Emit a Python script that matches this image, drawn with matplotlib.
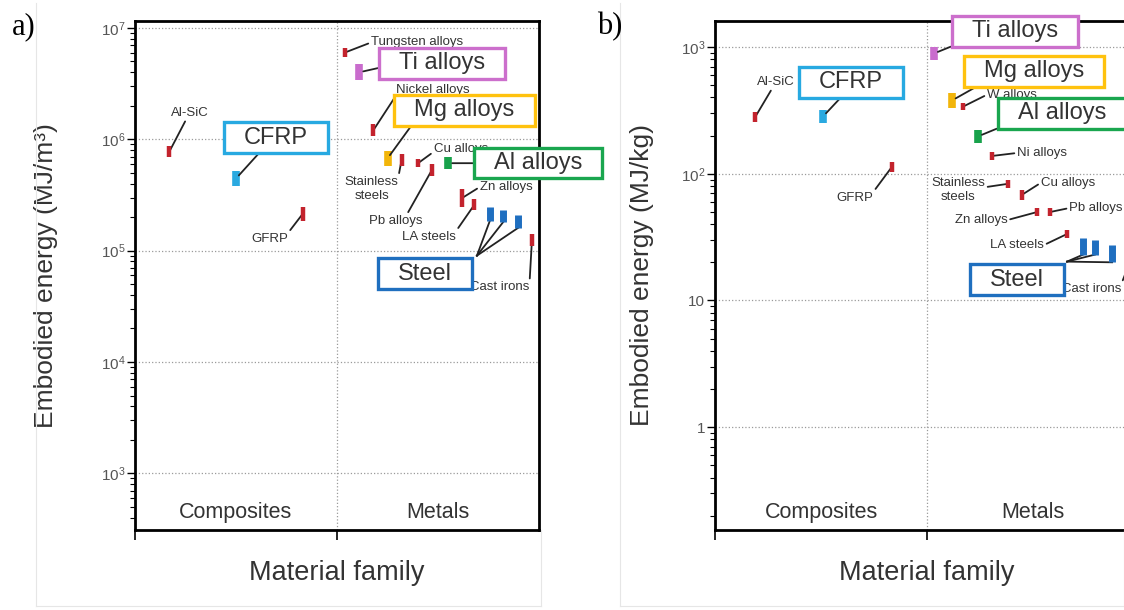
import numpy as np
import matplotlib
matplotlib.use("Agg")
import matplotlib.pyplot as plt
from matplotlib.lines import Line2D
from matplotlib.path import Path
from matplotlib.ticker import LogLocator, FuncFormatter, NullFormatter

plt.rcParams['font.family'] = ['Liberation Sans', 'DejaVu Sans']
plt.rcParams['mathtext.fontset'] = 'custom'
plt.rcParams['mathtext.rm'] = 'Liberation Sans'
plt.rcParams['mathtext.it'] = 'Liberation Sans:italic'
plt.rcParams['mathtext.bf'] = 'Liberation Sans:bold'

families = ["Composites", "Metals"]

# a) embodied energy per unit volume, MJ/m^3 (low / high of each range)
mat_a = ["Al-SiC", "CFRP", "GFRP", "Tungsten alloys", "Ti alloys", "Nickel alloys",
         "Mg alloys", "Stainless\nsteels", "Cu alloys", "Pb alloys", "Al alloys",
         "Zn alloys", "LA steels", "Cast irons"]
x_a = [0.17, 0.50, 0.83, 1.04, 1.11, 1.18, 1.25, 1.32, 1.40, 1.47, 1.55, 1.62, 1.68, 1.965]
lo_a = [6.9e5, 3.8e5, 1.86e5, 5.5e6, 3.4e6, 1.07e6, 5.8e5, 5.8e5, 5.6e5, 4.7e5, 5.4e5,
        2.46e5, 2.3e5, 1.1e5]
hi_a = [8.7e5, 5.2e5, 2.46e5, 6.6e6, 4.7e6, 1.36e6, 7.8e5, 7.4e5, 6.6e5, 6.0e5, 6.9e5,
        3.6e5, 2.9e5, 1.4e5]
steel_x_a = [1.757, 1.822, 1.896]
steel_lo_a = [1.86e5, 1.8e5, 1.6e5]
steel_hi_a = [2.46e5, 2.3e5, 2.1e5]

# b) embodied energy per unit mass, MJ/kg
mat_b = ["Al-SiC", "CFRP", "GFRP", "Ti alloys", "Mg alloys", "W alloys", "Al alloys",
         "Ni alloys", "Stainless\nsteels", "Cu alloys", "Zn alloys", "Pb alloys",
         "LA steels", "Cast irons"]
x_b = [0.19, 0.51, 0.835, 1.033, 1.118, 1.17, 1.241, 1.307, 1.382, 1.448, 1.519, 1.58,
       1.66, 1.948]
lo_b = [257, 252, 104, 790, 330, 317, 175, 128, 77, 62, 46, 46, 31, 16]
hi_b = [307, 319, 124, 1000, 434, 361, 222, 149, 90, 75, 54, 54, 36, 21]
steel_x_b = [1.736, 1.792, 1.873]
steel_lo_b = [23, 23, 20]
steel_hi_b = [31, 30, 27.5]

RED = '#c3232d'
TXT = '#333333'
bar_colors = {"CFRP": '#2aa9e0', "Ti alloys": '#c96ccd', "Mg alloys": '#f2b50a',
              "Al alloys": '#18a24b', "Steel": '#1f6fc0'}
box_colors = {"CFRP": '#27a9e1', "Ti alloys": '#cc6fcc', "Mg alloys": '#ffc20e',
              "Al alloys": '#1aa64f', "Steel": '#1f6fbf'}

# label placement: offset in pixels from the middle of each bar, and where the leader leaves the label
layout_a = {
    "Al-SiC": (21, 39, (0.4, 0)), "CFRP": (40, 41, (0.3, 0)), "GFRP": (-33, -25, (1, 1)),
    "Tungsten alloys": (72, 10, (0, 0.5)), "Ti alloys": (83, 9, (0, 0.5)),
    "Nickel alloys": (59, 40, (0, 0)), "Mg alloys": (77, 48, (0, 0)),
    "Stainless\nsteels": (-30, -29, (1, 1)), "Cu alloys": (43, 14, (0, 0.3)),
    "Pb alloys": (-36, -51, (0.7, 1)), "Al alloys": (90, 0, (0, 0.5)),
    "Zn alloys": (44, 11, (0, 0.5)), "LA steels": (-45, -32, (1, 1)),
    "Cast irons": (-32, -47, (1, 1)),
}
steel_layout_a = {"hub": (-13, -35), "box": (-65, -53)}

layout_b = {
    "Al-SiC": (21, 35, (0.4, 0)), "CFRP": (28, 34, (0.4, 0)), "GFRP": (-37, -31, (1, 1)),
    "Ti alloys": (81, 22, (0, 0.2)), "Mg alloys": (82, 29, (0, 0)),
    "W alloys": (49, 12, (0, 0.5)), "Al alloys": (84, 23, (0, 0.2)),
    "Ni alloys": (50, 3, (0, 0.5)), "Stainless\nsteels": (-50, -6, (1, 0.6)),
    "Cu alloys": (46, 12, (0, 0.5)), "Zn alloys": (-56, -8, (1, 0.5)),
    "Pb alloys": (46, 4, (0, 0.5)), "LA steels": (-50, -11, (1, 0.5)),
    "Cast irons": (-36, -22, (1, 1)),
}
steel_layout_b = {"hub": (-16, -7), "box": (-66, -25)}


def wide_box(x0, y0, width, height, mutation_size):
    # rectangle with more room left/right than above/below
    px, py = 0.85 * mutation_size, 0.18 * mutation_size
    xa, xb = x0 - px, x0 + width + px
    ya, yb = y0 - py, y0 + height + py
    return Path([(xa, ya), (xb, ya), (xb, yb), (xa, yb), (xa, ya)], closed=True)


def fmt_a(v, pos):
    return r'$10^{%d}$' % int(round(np.log10(v)))


def fmt_b(v, pos):
    n = int(round(np.log10(v)))
    if n == 0:
        return '1'
    if n == 1:
        return '10'
    return r'$10^{%d}$' % n


def draw_panel(ax, names, xs, lo, hi, sx, slo, shi, layout, steel_layout, ylim, fmt, ylabel):
    ax.set_yscale('log')
    ax.set_xlim(0, 2)
    ax.set_ylim(*ylim)
    ax.yaxis.set_major_locator(LogLocator(base=10, numticks=20))
    ax.yaxis.set_minor_locator(LogLocator(base=10, subs=np.arange(2, 10), numticks=20))
    ax.yaxis.set_major_formatter(FuncFormatter(fmt))
    ax.yaxis.set_minor_formatter(NullFormatter())
    ax.set_xticks([0, 1])
    ax.set_xticklabels([])
    ax.tick_params(axis='y', which='major', direction='out', length=6, width=1,
                   labelsize=11, labelcolor='#555555', pad=1)
    ax.tick_params(axis='y', which='minor', direction='out', length=3.5, width=0.8)
    ax.tick_params(axis='x', direction='out', length=7, width=1.2)
    for s in ax.spines.values():
        s.set_linewidth(2)
    ax.grid(True, which='major', axis='y', ls=':', color='#9a9a9a', lw=0.9)
    ax.axvline(1, ls=':', color='#9a9a9a', lw=0.9, zorder=0.5)

    for i, fam in enumerate(families):
        ax.text(i + 0.5, 0.035, fam, transform=ax.get_xaxis_transform(),
                ha='center', va='center', fontsize=15.5, color=TXT)

    # ranges
    cols = [bar_colors.get(n, RED) for n in names]
    widths = [5.5 if n in bar_colors else 3.2 for n in names]
    ax.vlines(xs, lo, hi, colors=cols, linewidths=widths, zorder=4)
    ax.vlines(sx, slo, shi, colors=bar_colors["Steel"], linewidths=5, zorder=4)

    for i, name in enumerate(names):
        dx, dy, rel = layout[name]
        boxed = name in box_colors
        kw = dict(fontsize=9.5, zorder=3)
        if boxed:
            kw = dict(fontsize=17, zorder=6,
                      bbox=dict(boxstyle=wide_box, fc='white', ec=box_colors[name], lw=2.4))
        ax.annotate(name, xy=(xs[i], np.sqrt(lo[i] * hi[i])), xytext=(dx, dy),
                    textcoords='offset pixels', ha='center', va='center', color=TXT,
                    annotation_clip=False,
                    arrowprops=dict(arrowstyle='-', color='#222222', lw=1.3, relpos=rel,
                                    shrinkA=0, shrinkB=3 if boxed else 1),
                    **kw)

    # steel grades share one box
    p0 = ax.transData.transform((sx[0], slo[0]))
    inv = ax.transData.inverted()
    hub = inv.transform(p0 + np.array(steel_layout["hub"]))
    bx = inv.transform(p0 + np.array(steel_layout["box"]))
    for x, l in zip(sx, slo):
        ax.plot([x, hub[0]], [l, hub[1]], color='#222222', lw=1.3, zorder=3, clip_on=False)
    ax.text(bx[0], bx[1], "Steel", ha='center', va='center', fontsize=17, color=TXT, zorder=6,
            bbox=dict(boxstyle=wide_box, fc='white', ec=box_colors["Steel"], lw=2.4))

    ax.set_xlabel("Material family", fontsize=19.5, color=TXT, labelpad=11)
    ax.set_ylabel(ylabel, fontsize=19, color=TXT)


W, H = 1124, 610
fig = plt.figure(figsize=(W / 100, H / 100), dpi=100)

# faint outlines around each panel
for x0, x1 in [(36, 541), (620, 1124)]:
    for xs_, ys_ in [([x0, x0], [3, 606]), ([x0, x1], [606, 606]), ([x1, x1], [530, 606])]:
        fig.add_artist(Line2D(np.array(xs_) / W, 1 - np.array(ys_) / H,
                              transform=fig.transFigure, color='#e6e6e6', lw=0.8))

ax_a = fig.add_axes([135 / W, 1 - 530 / H, 404 / W, 509 / H])
ax_b = fig.add_axes([715 / W, 1 - 530 / H, 424 / W, 509 / H])

draw_panel(ax_a, mat_a, x_a, lo_a, hi_a, steel_x_a, steel_lo_a, steel_hi_a,
           layout_a, steel_layout_a, (310, 1.155e7), fmt_a, "Embodied energy (MJ/m³)")
draw_panel(ax_b, mat_b, x_b, lo_b, hi_b, steel_x_b, steel_lo_b, steel_hi_b,
           layout_b, steel_layout_b, (0.1545, 1603), fmt_b, "Embodied energy (MJ/kg)")
ax_a.yaxis.set_label_coords(-0.19, 0.5)
ax_b.yaxis.set_label_coords(-0.145, 0.5)

fig.text(12 / W, 1 - 27 / H, "a)", fontsize=22, family=['Liberation Serif'], ha='left', va='center')
fig.text(597 / W, 1 - 27 / H, "b)", fontsize=22, family=['Liberation Serif'], ha='left', va='center')

fig.savefig("out.png", dpi=100)
